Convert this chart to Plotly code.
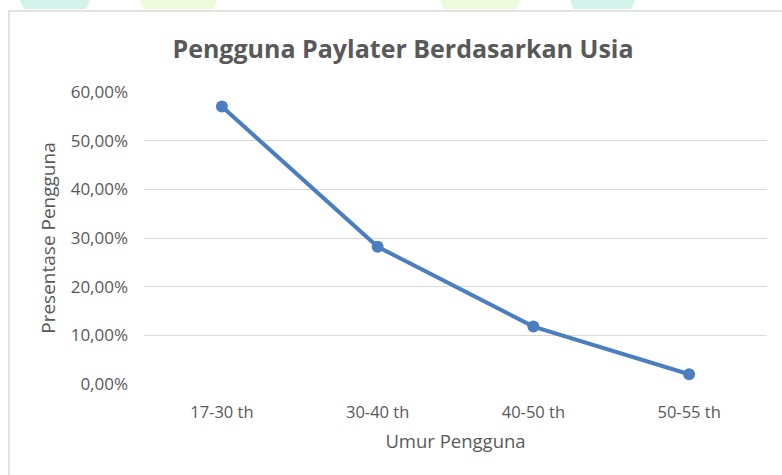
import plotly.graph_objects as go

categories = ["17-30 th", "30-40 th", "40-50 th", "50-55 th"]
values = [57.0, 28.2, 11.8, 2.0]
y_ticks = [0, 10, 20, 30, 40, 50, 60]
y_tick_labels = ["0,00%", "10,00%", "20,00%", "30,00%", "40,00%", "50,00%", "60,00%"]

W, H = 782, 475
L, R, T, B = 144, 15, 92, 91
pw, ph = W - L - R, H - T - B

def px(x):
    return (x - L) / pw

def py(y):
    return (H - B - y) / ph

fig = go.Figure()
fig.add_trace(go.Scatter(
    x=categories, y=values, mode="lines+markers",
    line=dict(color="#4A7EBF", width=4),
    marker=dict(color="#4A7EBF", size=12),
    hoverinfo="skip",
))

shapes = [
    dict(type="rect", xref="paper", yref="paper",
         x0=px(9), x1=px(800), y0=py(11), y1=py(490),
         line=dict(color="#d9d9d9", width=1.5), fillcolor="rgba(0,0,0,0)", layer="below"),
]
# faint watermark blocks at the top edge
for x0, x1, col in [(20, 90, "#d3f2ea"), (140, 217, "#eefadb"), (440, 520, "#eefadb"), (570, 635, "#d3f2ea")]:
    shapes.append(dict(type="path", xref="paper", yref="paper",
                       path=f"M {px(x0)},{py(0)} L {px(x1)},{py(0)} L {px(x1-4)},{py(9)} L {px(x0+4)},{py(9)} Z",
                       line=dict(width=0), fillcolor=col, layer="below"))

fig.update_layout(
    width=W, height=H,
    margin=dict(l=L, r=R, t=T, b=B),
    paper_bgcolor="white", plot_bgcolor="white",
    showlegend=False,
    shapes=shapes,
    font=dict(family="Open Sans", color="#595959"),
    title=dict(text="<b>Pengguna Paylater Berdasarkan Usia</b>",
               x=403 / W, xanchor="center", y=(H - 49) / H, yanchor="middle",
               font=dict(size=25, color="#595959", family="Open Sans")),
    xaxis=dict(type="category", range=[-0.5, 3.5], showgrid=False, zeroline=False,
               showline=False, ticks="", ticklabelstandoff=16,
               tickfont=dict(size=16.5, color="#595959"),
               title=dict(text="Umur Pengguna", font=dict(size=18.5, color="#595959"), standoff=13)),
    yaxis=dict(range=[0, 60], tickvals=y_ticks, ticktext=y_tick_labels,
               showgrid=True, gridcolor="#d9d9d9", gridwidth=1.3, zeroline=False,
               showline=False, ticks="", ticklabelstandoff=15,
               tickfont=dict(size=17, color="#595959"),
               title=dict(text="Presentase Pengguna", font=dict(size=19, color="#595959"), standoff=10)),
)
fig.write_html("out.html", config={"displayModeBar": False},
               post_script="document.body.style.margin='0';document.body.style.overflow='hidden';")
